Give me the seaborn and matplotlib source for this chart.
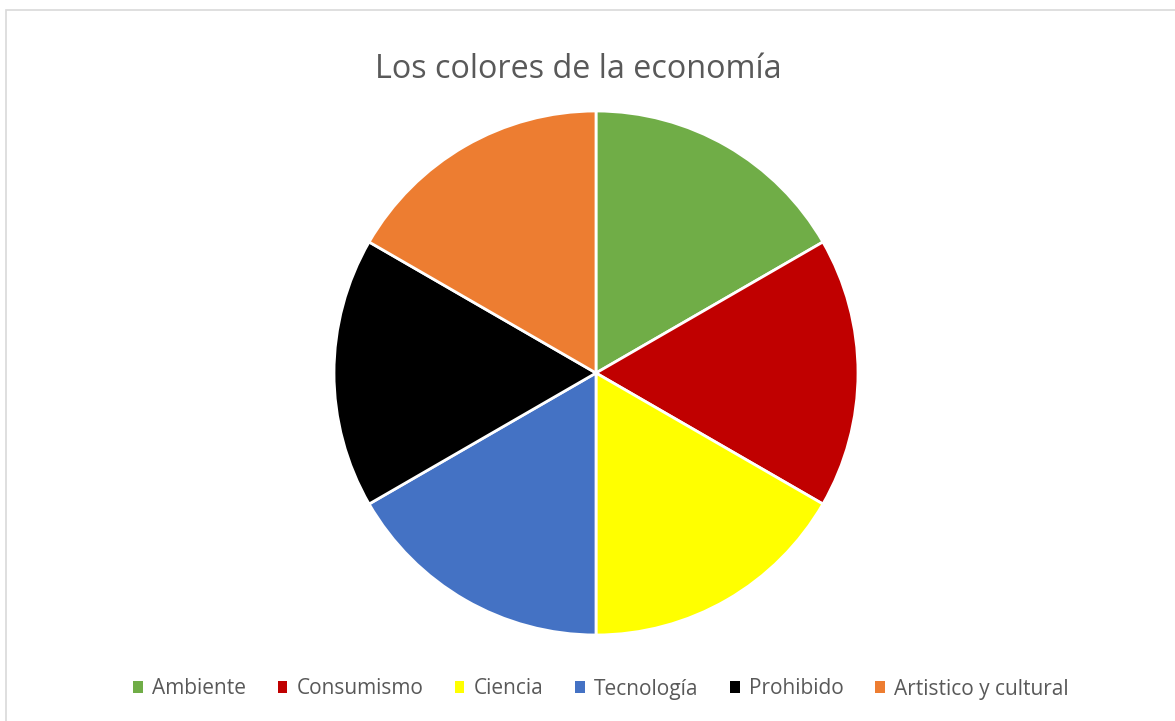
import matplotlib
matplotlib.use("Agg")
import matplotlib.pyplot as plt
from matplotlib.patches import Patch, Rectangle
import seaborn as sns

categories = ["Ambiente", "Consumismo", "Ciencia", "Tecnología", "Prohibido", "Artistico y cultural"]
values = [1, 1, 1, 1, 1, 1]
colors = ["#70AD47", "#C00000", "#FFFF00", "#4472C4", "#000000", "#ED7D31"]
title = "Los colores de la economía"

sns.set_theme(style="white")
plt.rcParams["font.family"] = ["Open Sans", "DejaVu Sans"]

W, H = 1175, 721
fig = plt.figure(figsize=(W / 100, H / 100), dpi=100)
fig.patch.set_facecolor("white")

# chart border
fig.add_artist(Rectangle((6 / W, -0.01), 1.2, (H - 10) / H + 0.01, transform=fig.transFigure,
                         fill=False, edgecolor="#D9D9D9", linewidth=1.2))

cx, cy, r = 596, 373, 262
ax = fig.add_axes([(cx - r) / W, 1 - (cy + r) / H, 2 * r / W, 2 * r / H])
ax.pie(values, colors=colors, startangle=90, counterclock=False, radius=1,
       wedgeprops=dict(edgecolor="white", linewidth=2))
ax.set_xlim(-1.0, 1.0)
ax.set_ylim(-1.0, 1.0)
ax.set_aspect("equal")
ax.axis("off")

fig.text(578 / W, 1 - 69 / H, title, ha="center", va="center", fontsize=23.3, color="#595959")

handles = [Patch(facecolor=c, edgecolor="none") for c in colors]
fig.legend(handles, categories, loc="center", bbox_to_anchor=(601 / W, 1 - 689 / H), ncol=6,
           frameon=False, fontsize=15, labelcolor="#595959", handlelength=0.45, handleheight=0.45,
           handletextpad=0.45, columnspacing=1.52)

fig.savefig("out.png", dpi=100, facecolor="white")
